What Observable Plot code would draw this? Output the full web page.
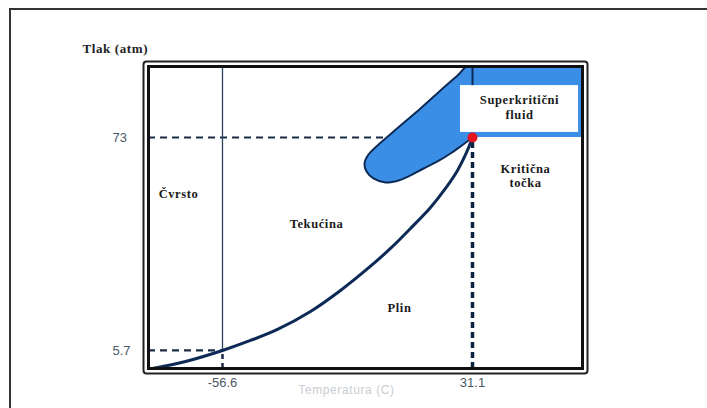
<!DOCTYPE html>
<html>
<head>
<meta charset="utf-8">
<script src="https://cdn.jsdelivr.net/npm/d3@7"></script>
<script src="https://cdn.jsdelivr.net/npm/@observablehq/plot@0.6"></script>
<style>
  body { margin: 0; background: #fff; }
  #wrap { position: relative; width: 707px; height: 408px; overflow: hidden; }
  #page { position: absolute; left: 9px; top: 8px; width: 720px; height: 420px;
          border-left: 2px solid #333; border-top: 2px solid #333; pointer-events: none; }
  svg g[aria-label="text"] text { letter-spacing: 0.6px; }
</style>
</head>
<body>
<div id="wrap"><div id="page"></div></div>
<script>
// Axis domains (schematic scale)
const xDomain = [-82.56, 69.69];
const yDomain = [0, 95.43];

// Tick labels
const tempTicks = [-56.6, 31.1];
const pressTicks = [5.7, 73];

// Triple and critical points
const triple = {t: -56.6, p: 5.7};
const critical = {t: 31.1, p: 73};

// Vapour-pressure curve (gas / liquid boundary)
const vaporT = [-81.16, -69.58, -56.6, -46.78, -37.31, -25.73, -15.21, -6.44, 2.33, 9.35, 16.37, 21.63, 25.84, 29.0, 31.1];
const vaporP = [0.0, 2.22, 5.7, 8.86, 12.34, 18.02, 24.66, 30.98, 37.93, 44.25, 50.88, 56.89, 62.57, 68.26, 73];

// Blue lobe
const lobeT = [31.1, 26.89, 23.38, 18.82, 13.91, 9.35, 5.14, 0.58, -3.63, -6.08, -6.79, -5.38, -2.58, 0.58, 5.84, 12.86, 19.87, 26.19, 29.0, 31.1];
const lobeP = [73, 70.16, 67.94, 65.42, 63.2, 61.0, 59.41, 58.78, 60.05, 62.26, 64.78, 67.63, 70.16, 72.68, 76.79, 82.16, 87.85, 92.91, 95.43, 95.43];

// White label box in the supercritical region
const boxT = [26.9, 68.3];
const boxP = [74.6, 89.4];

// Region labels
const regionNames = ["Čvrsto", "Tekućina", "Plin", "Kritična\ntočka", "Superkritični\nfluid"];
const regionT = [-72.04, -23.62, 5.49, 49.69, 47.59];
const regionP = [55.31, 45.83, 19.29, 61.0, 82.64];

// Axis titles
const yTitle = {text: "Tlak (atm)", t: -105.7, p: 101.1};
const xTitle = {text: "Temperatura (C)", t: -13.1, p: -6.9};

const vapor = vaporT.map((t, i) => ({t, p: vaporP[i]}));
const lobe = lobeT.map((t, i) => ({t, p: lobeP[i]}));
const regions = regionNames.map((name, i) => ({name, t: regionT[i], p: regionP[i]}));

const navy = "#0c2a55";
const blue = "#3b8ee6";
const serif = "'Liberation Serif', 'DejaVu Serif', serif";
const sans = "'Liberation Sans', Arial, sans-serif";

const chart = Plot.plot({
  width: 707,
  height: 408,
  marginLeft: 148,
  marginRight: 125,
  marginTop: 66,
  marginBottom: 40,
  x: {domain: xDomain},
  y: {domain: yDomain},
  style: {background: "transparent", fontFamily: sans},
  marks: [
    // guide lines
    Plot.ruleY([critical.p], {x1: xDomain[0], x2: critical.t, stroke: "#1b2b44", strokeWidth: 2, strokeDasharray: "7,5"}),
    Plot.ruleY([triple.p], {x1: xDomain[0], x2: triple.t, stroke: "#1b2b44", strokeWidth: 2.2, strokeDasharray: "7,5"}),
    Plot.ruleX([triple.t], {y1: triple.p, y2: yDomain[1], stroke: "#2a4260", strokeWidth: 1.3}),
    Plot.ruleX([triple.t], {y1: yDomain[0], y2: triple.p, stroke: "#1b2b44", strokeWidth: 2.5, strokeDasharray: "5,4"}),
    Plot.ruleX([critical.t], {y1: yDomain[0], y2: critical.p, stroke: "#0e2440", strokeWidth: 3.5, strokeDasharray: "6,4"}),
    // blue lobe
    Plot.line(lobe, {x: "t", y: "p", curve: "catmull-rom", fill: blue, stroke: navy, strokeWidth: 2}),
    // supercritical region
    Plot.rect([critical], {x1: "t", x2: () => xDomain[1], y1: "p", y2: () => yDomain[1], fill: blue}),
    Plot.rect([{}], {x1: () => boxT[0], x2: () => boxT[1], y1: () => boxP[0], y2: () => boxP[1], fill: "white"}),
    Plot.ruleX([critical.t], {y1: boxP[1], y2: yDomain[1], stroke: navy, strokeWidth: 2}),
    // vapour curve
    Plot.line(vapor, {x: "t", y: "p", curve: "catmull-rom", stroke: navy, strokeWidth: 3}),
    Plot.dot([critical], {x: "t", y: "p", r: 5, fill: "#e3141c", stroke: "none"}),
    // region labels
    Plot.text(regions, {x: "t", y: "p", text: "name", fontFamily: serif, fontWeight: "bold", fontSize: 12.5, fill: "#1a1a1a", lineHeight: 1.15}),
    Plot.text([yTitle], {x: "t", y: "p", text: "text", textAnchor: "start", fontFamily: serif, fontWeight: "bold", fontSize: 13, fill: "#222"}),
    Plot.text([xTitle], {x: "t", y: "p", text: "text", fontFamily: sans, fontSize: 12, fill: "#c9cdd2"}),
    // axes
    Plot.axisX(tempTicks, {tickSize: 0, tickPadding: 9, fontSize: 13, fill: "#4a5868", label: null, tickFormat: d => String(d)}),
    Plot.axisY(pressTicks, {tickSize: 0, tickPadding: 3, textAnchor: "start", dx: -33, fontSize: 13, fill: "#4a5868", label: null, tickFormat: d => String(d)}),
    // double frame
    Plot.frame({stroke: "#111", strokeWidth: 3}),
    Plot.frame({inset: -5, stroke: "#222", strokeWidth: 2, rx: 3})
  ]
});
document.getElementById("wrap").prepend(chart);
</script>
</body>
</html>
